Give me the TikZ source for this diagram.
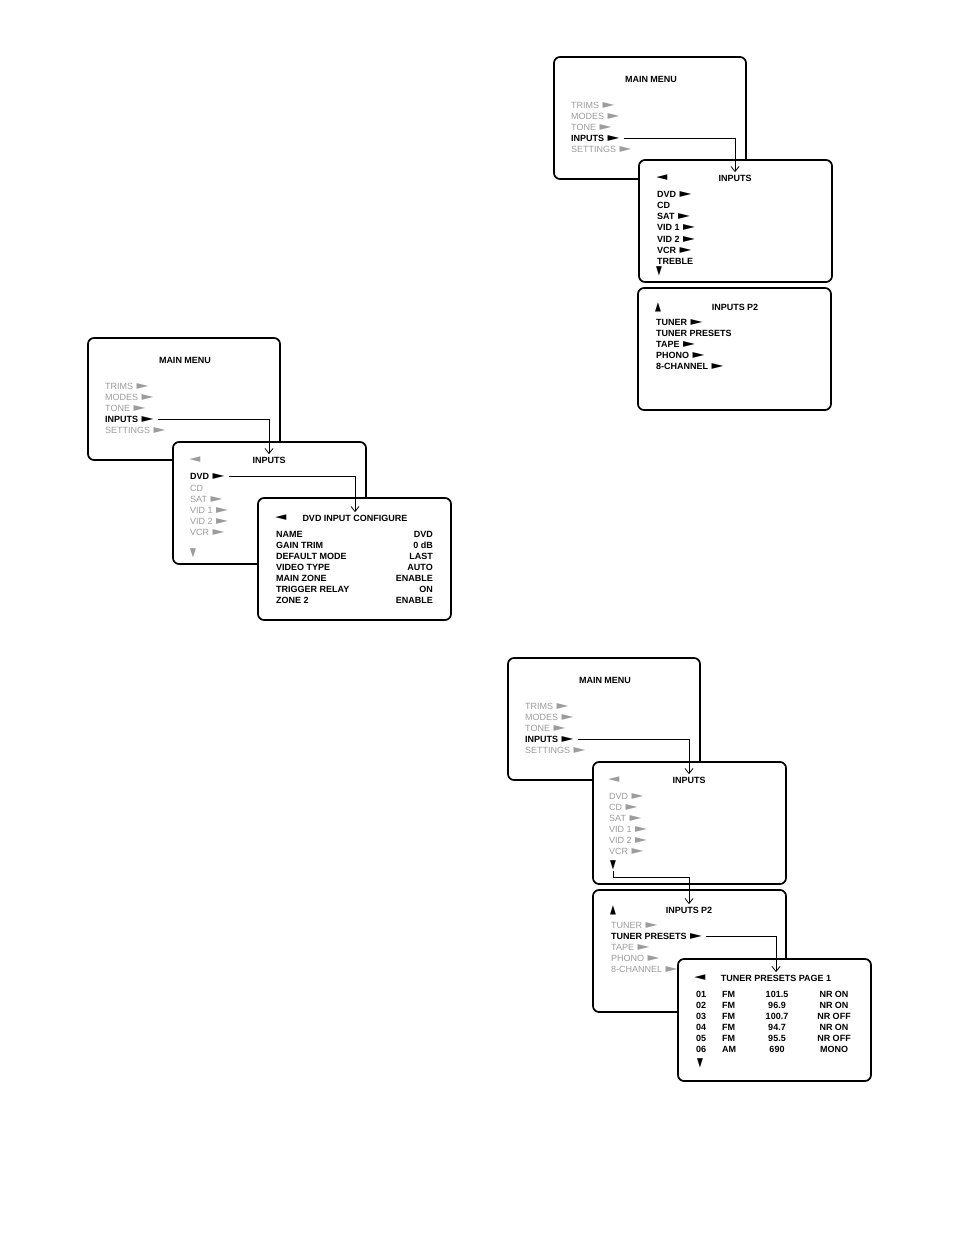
\documentclass[tikz,border=0pt]{standalone}
\usepackage{fontspec}
\setmainfont{Liberation Sans}
\newfontfamily\symfont{DejaVu Sans}
\usepackage{xcolor}
\usetikzlibrary{arrows.meta}
\tikzset{>={Straight Barb[length=5pt,width=8pt]}}
\definecolor{dimtext}{HTML}{9C9C9C}
\tikzset{
  screen/.style={draw,fill=white,line width=1.7pt,rounded corners=6pt},
  on/.style={font=\fontsize{9}{10}\selectfont\bfseries,inner sep=1pt},
  off/.style={font=\fontsize{9}{10}\selectfont,text=dimtext,inner sep=1pt},
  head/.style={on,inner sep=2.5pt},
  link/.style={->,line width=0.8pt,shorten <=3pt},
}
% the pointer glyphs of the screens
\newcommand{\rt}{{\kern1pt\symfont\scalebox{1.7}[1.3]{►}}}
\newcommand{\lt}{{\symfont\scalebox{1.6}[1.25]{◄}}}
\newcommand{\dn}{{\symfont\scalebox{0.85}[1.35]{▼}}}
\newcommand{\up}{{\symfont\scalebox{0.85}[1.35]{▲}}}
% one screen, top left corner at (#1,#2)
\newcommand{\screen}[2]{\draw[screen] (#1,#2) rectangle ++(193,122);}
% the main menu, names #1mm and #1in
\newcommand{\mainmenu}[3]{%
  \begin{scope}[shift={(#2,#3)}]
  \draw[screen] (0,0) rectangle (192,122);
  \node[on] (#1mm) at (97,22) {MAIN MENU};
  \node[off,anchor=west] at (16,48) {TRIMS \rt};
  \node[off,anchor=west] at (16,59) {MODES \rt};
  \node[off,anchor=west] at (16,70) {TONE \rt};
  \node[on,anchor=west] (#1in) at (16,81) {INPUTS \rt};
  \node[off,anchor=west] at (16,92) {SETTINGS \rt};
  \end{scope}}

\begin{document}
\begin{tikzpicture}[x=1pt,y=-1pt]
\useasboundingbox (0,0) rectangle (954,1235);

% top right: inputs, two pages
\mainmenu{a}{554}{57}
\screen{639}{160}
\node[on] at (662,178) {\lt};
\node[head] (ait) at (735,178) {INPUTS};
\node[on,anchor=west] at (656,194) {DVD \rt};
\node[on,anchor=west] at (656,205) {CD};
\node[on,anchor=west] at (656,216) {SAT \rt};
\node[on,anchor=west] at (656,227) {VID 1 \rt};
\node[on,anchor=west] at (656,239) {VID 2 \rt};
\node[on,anchor=west] at (656,250) {VCR \rt};
\node[on,anchor=west] at (656,261) {TREBLE};
\node[on] at (659,271) {\dn};
\draw[link] (ain.east) -| (ait.north);
\screen{638}{288}
\node[on] at (658,307) {\up};
\node[head] (apt) at (735,307) {INPUTS P2};
\node[on,anchor=west] at (655,322) {TUNER \rt};
\node[on,anchor=west] at (655,333) {TUNER PRESETS};
\node[on,anchor=west] at (655,344) {TAPE \rt};
\node[on,anchor=west] at (655,355) {PHONO \rt};
\node[on,anchor=west] at (655,366) {8-CHANNEL \rt};

% middle left: dvd input configure
\mainmenu{b}{88}{338}
\screen{173}{442}
\node[off] at (195,460) {\lt};
\node[head] (bit) at (269,460) {INPUTS};
\node[on,anchor=west] (bdvd) at (189,476) {DVD \rt};
\node[off,anchor=west] at (189,488) {CD};
\node[off,anchor=west] at (189,499) {SAT \rt};
\node[off,anchor=west] at (189,510) {VID 1 \rt};
\node[off,anchor=west] at (189,521) {VID 2 \rt};
\node[off,anchor=west] at (189,532) {VCR \rt};
\node[off] at (193,553) {\dn};
\draw[link] (bin.east) -| (bit.north);
\screen{258}{498}
\node[on] at (281,518) {\lt};
\node[head] (bct) at (355,518) {DVD INPUT CONFIGURE};
\foreach \y/\name/\val in {534/NAME/DVD,545/GAIN TRIM/0 dB,556/DEFAULT MODE/LAST,
    567/VIDEO TYPE/AUTO,578/MAIN ZONE/ENABLE,589/TRIGGER RELAY/ON,600/ZONE 2/ENABLE}{
  \node[on,anchor=west] at (275,\y) {\name};
  \node[on,anchor=east] at (434,\y) {\val};
}
\draw[link] (bdvd.east) -| (bct.north);

% bottom right: tuner presets
\mainmenu{c}{508}{658}
\screen{593}{762}
\node[off] at (614,780) {\lt};
\node[head] (cit) at (689,780) {INPUTS};
\node[off,anchor=west] at (608,796) {DVD \rt};
\node[off,anchor=west] at (608,807) {CD \rt};
\node[off,anchor=west] at (608,818) {SAT \rt};
\node[off,anchor=west] at (608,829) {VID 1 \rt};
\node[off,anchor=west] at (608,840) {VID 2 \rt};
\node[off,anchor=west] at (608,851) {VCR \rt};
\node[on] (cdn) at (613,865) {\dn};
\draw[link] (cin.east) -| (cit.north);
\screen{593}{890}
\node[on] at (613,910) {\up};
\node[head] (cpt) at (689,910) {INPUTS P2};
\draw[link,shorten <=0pt] (cdn.south) -- ++(0,7) -| (cpt.north);
\node[off,anchor=west] at (610,925) {TUNER \rt};
\node[on,anchor=west] (ctp) at (610,936) {TUNER PRESETS \rt};
\node[off,anchor=west] at (610,947) {TAPE \rt};
\node[off,anchor=west] at (610,958) {PHONO \rt};
\node[off,anchor=west] at (610,969) {8-CHANNEL \rt};
\screen{678}{959}
\node[on] at (700,978) {\lt};
\node[head] (ctt) at (776,978) {TUNER PRESETS PAGE 1};
\foreach \y/\n/\band/\f/\nr in {994/01/FM/101.5/NR ON,1005/02/FM/96.9/NR ON,
    1016/03/FM/100.7/NR OFF,1027/04/FM/94.7/NR ON,1038/05/FM/95.5/NR OFF,1049/06/AM/690/MONO}{
  \node[on,anchor=west] at (695,\y) {\n};
  \node[on,anchor=west] at (721,\y) {\band};
  \node[on] at (777,\y) {\f};
  \node[on] at (834,\y) {\nr};
}
\node[on] at (700,1063) {\dn};
\draw[link] (ctp.east) -| (ctt.north);
\end{tikzpicture}
\end{document}
